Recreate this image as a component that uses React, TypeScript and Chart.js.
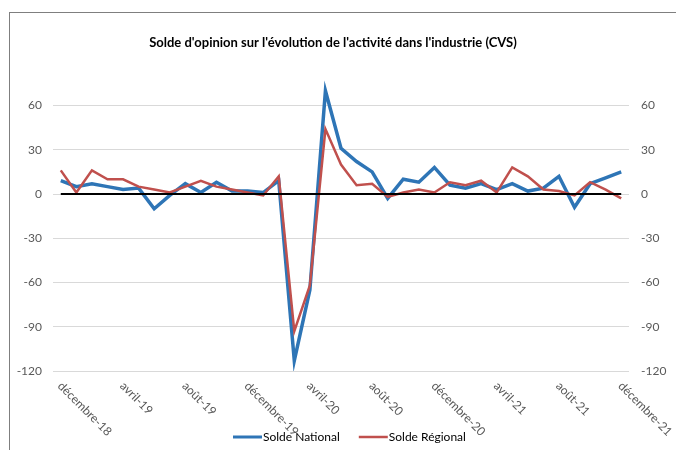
import React, { useEffect, useRef } from "react";
import { Chart, registerables } from "chart.js";

Chart.register(...registerables);

const TITLE = "Solde d'opinion sur l'évolution de l'activité dans l'industrie (CVS)";

const categories = [
  "décembre-18", "janvier-19", "février-19", "mars-19", "avril-19", "mai-19", "juin-19", "juillet-19",
  "août-19", "septembre-19", "octobre-19", "novembre-19", "décembre-19", "janvier-20", "février-20",
  "mars-20", "avril-20", "mai-20", "juin-20", "juillet-20", "août-20", "septembre-20", "octobre-20",
  "novembre-20", "décembre-20", "janvier-21", "février-21", "mars-21", "avril-21", "mai-21", "juin-21",
  "juillet-21", "août-21", "septembre-21", "octobre-21", "novembre-21", "décembre-21",
];

const soldeNational = [
  9, 5, 7, 5, 3, 4, -10, -1, 7, 1, 8, 2, 2, 1, 9, -113, -65, 70, 31, 22,
  15, -3, 10, 8, 18, 6, 4, 7, 3, 7, 2, 4, 12, -9, 7, 11, 15,
];

const soldeRegional = [
  16, 1, 16, 10, 10, 5, 3, 1, 5, 9, 5, 3, 1, -1, 12, -93, -62, 44, 20, 6,
  7, -2, 1, 3, 1, 8, 6, 9, 1, 18, 12, 3, 2, -1, 8, 3, -3,
];

const yTickValues = [60, 30, 0, -30, -60, -90, -120];
const Y_MIN = -120;
const Y_MAX = 80;
const LABEL_EVERY = 4;

const seriesNames = ["Solde National", "Solde Régional"];
const seriesColors = ["#2E75B6", "#C0504D"];

const FONT = "Lato, 'Liberation Sans', sans-serif";
const TEXT_COLOR = "#595959";

const decorPlugin = {
  id: "decor",
  afterDatasetsDraw(chart: any) {
    const ctx = chart.ctx;
    const x = chart.scales.x;
    const y = chart.scales.y;
    const y0 = y.getPixelForValue(0);
    ctx.save();
    ctx.strokeStyle = "#000000";
    ctx.lineWidth = 2;
    ctx.beginPath();
    ctx.moveTo(x.getPixelForValue(0), y0);
    ctx.lineTo(x.getPixelForValue(categories.length - 1), y0);
    ctx.stroke();
    ctx.restore();
  },
  afterDraw(chart: any) {
    const ctx = chart.ctx;
    const x = chart.scales.x;
    const bottom = chart.chartArea.bottom;
    ctx.save();
    // title
    ctx.font = `bold 13px ${FONT}`;
    ctx.fillStyle = "#000000";
    ctx.textAlign = "center";
    ctx.textBaseline = "middle";
    ctx.fillText(TITLE, 333, 43);

    // rotated x labels
    ctx.font = `12px ${FONT}`;
    ctx.fillStyle = TEXT_COLOR;
    ctx.textAlign = "left";
    ctx.textBaseline = "middle";
    categories.forEach((c, i) => {
      if (i % LABEL_EVERY !== 0) return;
      const px = x.getPixelForValue(i);
      ctx.save();
      ctx.translate(px - 1, bottom + 13);
      ctx.rotate(Math.PI / 4);
      ctx.fillText(c, 0, 0);
      ctx.restore();
    });

    // legend
    ctx.font = `12px ${FONT}`;
    ctx.textBaseline = "middle";
    ctx.textAlign = "left";
    const ly = 437;
    let lx = 233;
    seriesNames.forEach((name, i) => {
      ctx.strokeStyle = seriesColors[i];
      ctx.lineWidth = i === 0 ? 3 : 2.5;
      ctx.beginPath();
      ctx.moveTo(lx, ly);
      ctx.lineTo(lx + 29, ly);
      ctx.stroke();
      ctx.fillStyle = "#000000";
      ctx.fillText(name, lx + 30, ly);
      lx += 30 + ctx.measureText(name).width + 19;
    });
    ctx.restore();
  },
};

function yAxis(position: "left" | "right", width: number, showGrid: boolean, padding: number) {
  return {
    type: "linear" as const,
    position,
    min: Y_MIN,
    max: Y_MAX,
    afterBuildTicks: (s: any) => {
      s.ticks = yTickValues.map((v) => ({ value: v }));
    },
    afterFit: (s: any) => {
      s.width = width;
    },
    grid: { display: showGrid, color: "#d9d9d9", lineWidth: 1, drawTicks: false },
    border: { display: false },
    ticks: {
      color: TEXT_COLOR,
      font: { family: FONT, size: 12 },
      padding,
    },
  };
}

export default function App() {
  const canvasRef = useRef<HTMLCanvasElement | null>(null);

  useEffect(() => {
    if (!canvasRef.current) return;
    const chart = new Chart(canvasRef.current, {
      type: "line",
      data: {
        labels: categories,
        datasets: [
          {
            label: seriesNames[0],
            data: soldeNational,
            borderColor: seriesColors[0],
            backgroundColor: seriesColors[0],
            borderWidth: 3.5,
            pointRadius: 0,
            tension: 0,
            yAxisID: "y",
          },
          {
            label: seriesNames[1],
            data: soldeRegional,
            borderColor: seriesColors[1],
            backgroundColor: seriesColors[1],
            borderWidth: 2.5,
            pointRadius: 0,
            tension: 0,
            yAxisID: "y",
            order: -1,
          },
        ],
      },
      options: {
        responsive: false,
        animation: false,
        layout: { padding: { top: 76, left: 0, right: 0, bottom: 0 } },
        plugins: {
          legend: { display: false },
          title: { display: false },
          tooltip: { enabled: false },
        },
        scales: {
          x: {
            type: "category",
            offset: true,
            grid: { display: false, drawTicks: false },
            border: { display: false },
            ticks: { display: false },
            afterFit: (s: any) => {
              s.height = 79;
            },
          },
          y: yAxis("left", 53, true, 11),
          y2: yAxis("right", 47, false, 12),
        },
      },
      plugins: [decorPlugin],
    });
    return () => chart.destroy();
  }, []);

  return (
    <div style={{ position: "fixed", left: 0, top: 0, width: 676, height: 450, background: "#fff", overflow: "hidden" }}>
      <canvas ref={canvasRef} width={676} height={450} style={{ position: "absolute", left: 0, top: 0, width: 676, height: 450 }} />
      <div style={{ position: "absolute", left: 9, top: 12, width: 1, height: 450, background: "#7f7f7f" }} />
      <div style={{ position: "absolute", left: 9, top: 12, width: 700, height: 1, background: "#7f7f7f" }} />
    </div>
  );
}
